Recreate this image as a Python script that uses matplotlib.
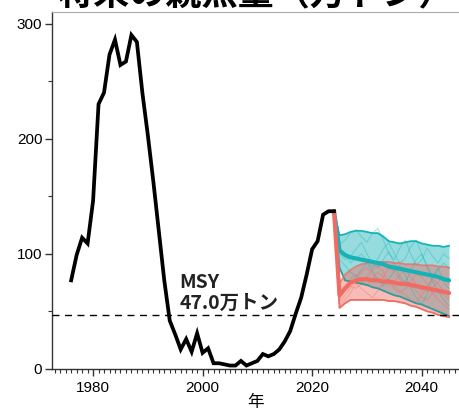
import matplotlib
matplotlib.use("Agg")
import matplotlib.pyplot as plt
from matplotlib.ticker import MultipleLocator

plt.rcParams['font.family'] = ['Liberation Sans', 'Noto Sans CJK JP', 'DejaVu Sans']

# ---- observed spawning biomass (万トン) ----
obs_years = list(range(1976, 2025))
obs_ssb = [77, 99, 114, 109, 146, 230, 240, 273, 286, 264,
           267, 290, 284, 240, 203, 163, 120, 77, 42, 30,
           17, 26, 15, 31, 14, 18, 5, 5, 4, 3,
           3, 7, 3, 5, 7, 13, 11, 13, 17, 24,
           33, 48, 62, 82, 104, 111, 134, 137, 137]

# ---- projections ----
proj_years = list(range(2024, 2046))
teal_med = [137, 103, 99, 97, 96, 95, 94, 93, 92, 91, 89, 88, 87, 86, 85, 84, 83, 82, 81, 80, 78, 77]
teal_hi = [137, 116, 117, 119, 120, 120, 119, 118, 118, 115, 111, 110, 109, 110, 111, 111, 109, 108, 107, 107, 106, 107]
teal_lo = [137, 88, 77, 76, 75, 74, 73, 71, 70, 68, 66, 64, 63, 61, 59, 57, 56, 54, 52, 50, 48, 46]
red_med = [137, 64, 70, 75, 77, 78, 78, 77, 77, 76, 76, 75, 74, 74, 73, 72, 71, 70, 69, 68, 67, 66]
red_hi = [137, 74, 82, 86, 89, 91, 92, 93, 93, 93, 93, 92, 92, 91, 91, 91, 90, 90, 90, 89, 89, 88]
red_lo = [137, 53, 57, 60, 60, 60, 60, 60, 60, 60, 59, 59, 58, 57, 55, 54, 52, 50, 49, 47, 46, 45]

teal_runs = [
    [137, 108, 112, 118, 121, 115, 110, 118, 122, 112, 100, 95, 105, 112, 100, 90, 95, 105, 98, 92, 100, 96],
    [137, 100, 95, 98, 104, 110, 100, 92, 88, 95, 102, 92, 80, 75, 85, 95, 100, 90, 80, 86, 92, 88],
    [137, 95, 90, 84, 80, 86, 92, 85, 78, 72, 78, 85, 90, 82, 70, 62, 56, 65, 80, 88, 75, 70],
    [137, 104, 100, 92, 96, 100, 94, 88, 96, 104, 110, 100, 92, 96, 106, 112, 100, 88, 76, 68, 60, 55],
]
red_runs = [
    [137, 58, 64, 70, 78, 84, 88, 82, 76, 80, 88, 85, 78, 72, 76, 82, 80, 74, 70, 76, 80, 74],
    [137, 62, 68, 72, 70, 74, 80, 86, 90, 84, 76, 70, 66, 70, 74, 68, 62, 60, 66, 70, 64, 60],
    [137, 55, 60, 66, 74, 70, 66, 62, 68, 74, 78, 72, 68, 64, 60, 58, 64, 70, 66, 60, 56, 52],
    [137, 60, 70, 78, 82, 76, 72, 78, 84, 80, 72, 76, 82, 86, 80, 74, 68, 72, 78, 74, 68, 62],
]

msy = 47.0
title = "将来の親魚量（万トン）"
xlabel = "年"
msy_label = "MSY\n47.0万トン"

TEAL = "#16B3B6"
RED = "#F06B63"

fig = plt.figure(figsize=(4.6, 4.08), dpi=100)
ax = fig.add_axes([52/460, 39/408, 1 - 52/460, (369-12)/408])

ax.fill_between(proj_years, teal_lo, teal_hi, color=TEAL, alpha=0.45, lw=0, zorder=1)
ax.fill_between(proj_years, red_lo, red_hi, color=RED, alpha=0.45, lw=0, zorder=2)

for r in teal_runs:
    ax.plot(proj_years, r, color=TEAL, lw=0.8, alpha=0.35, zorder=3)
for r in red_runs:
    ax.plot(proj_years, r, color=RED, lw=0.8, alpha=0.35, zorder=3)

ax.plot(proj_years, teal_hi, color=TEAL, lw=1.3, zorder=4)
ax.plot(proj_years, teal_lo, color="#2E9C98", lw=1.3, zorder=4)
ax.plot(proj_years, red_hi, color=RED, lw=1.3, alpha=0.8, zorder=4)
ax.plot(proj_years, red_lo, color=RED, lw=1.3, zorder=4)

ax.plot(proj_years, teal_med, color=TEAL, lw=3.0, zorder=5, solid_capstyle='round')
ax.plot(proj_years, red_med, color=RED, lw=3.0, zorder=6, solid_capstyle='round')

ax.plot(obs_years, obs_ssb, color="black", lw=2.7, zorder=7, solid_joinstyle='miter')

ax.axhline(msy, color="black", lw=1.0, ls=(0, (5, 4)), zorder=8)
ax.text(1995.8, 66, msy_label, fontsize=14, fontweight='bold', ha='left', va='center',
        linespacing=1.15, color="#222222",
        family=['Noto Sans CJK JP', 'DejaVu Sans'], zorder=9)

ax.set_xlim(1972.5, 2047)
ax.set_ylim(0, 310)
ax.xaxis.set_major_locator(MultipleLocator(20))
ax.xaxis.set_minor_locator(MultipleLocator(1))
ax.yaxis.set_major_locator(MultipleLocator(100))
ax.yaxis.set_minor_locator(MultipleLocator(50))
ax.tick_params(axis='both', which='major', length=5, width=1, labelsize=11, color='#333333')
ax.tick_params(axis='both', which='minor', length=3, width=0.8, color='#333333')
ax.tick_params(axis='x', pad=4)
ax.tick_params(axis='y', pad=2)

for s in ['left', 'bottom']:
    ax.spines[s].set_linewidth(1.0)
    ax.spines[s].set_color('#333333')
ax.spines['right'].set_visible(False)
ax.spines['top'].set_color('#aaaaaa')
ax.spines['top'].set_linewidth(0.8)

ax.set_xlabel(xlabel, fontsize=12, family=['Noto Sans CJK JP', 'DejaVu Sans'], labelpad=-1)

fig.text(0.556, 0.99, title, fontsize=26, fontweight='bold', ha='center', va='baseline',
         family=['Noto Sans CJK JP', 'DejaVu Sans'])

fig.savefig("out.png", dpi=100)
